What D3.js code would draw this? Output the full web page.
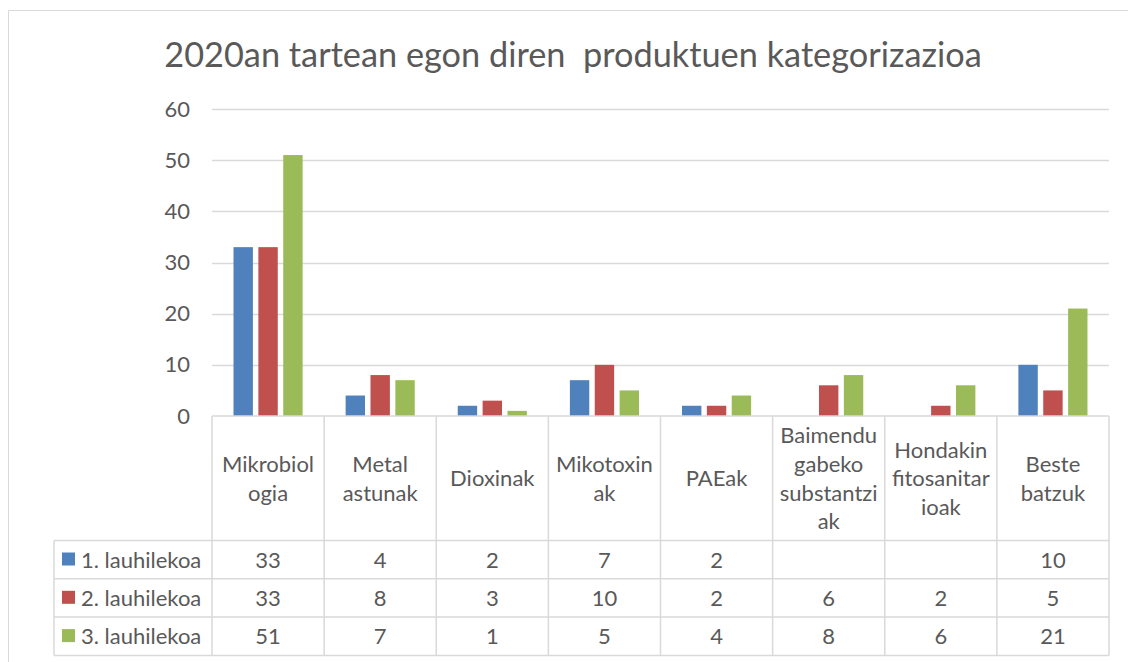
<!DOCTYPE html>
<html>
<head>
<meta charset="utf-8">
<script src="https://cdn.jsdelivr.net/npm/d3@7"></script>
<style>
  body { margin: 0; background: #fff; }
  svg { font-family: Lato, "Open Sans", sans-serif; fill: #595959; }
  .title { white-space: pre; }
</style>
</head>
<body>
<svg id="chart" width="1128" height="662"></svg>
<script>
const title = '2020an tartean egon diren  produktuen kategorizazioa';

// category names as wrapped in the table header
const categories = [
  ['Mikrobiol', 'ogia'],
  ['Metal', 'astunak'],
  ['Dioxinak'],
  ['Mikotoxin', 'ak'],
  ['PAEak'],
  ['Baimendu', 'gabeko', 'substantzi', 'ak'],
  ['Hondakin', 'fitosanitar', 'ioak'],
  ['Beste', 'batzuk']
];

const seriesNames = ['1. lauhilekoa', '2. lauhilekoa', '3. lauhilekoa'];
const seriesColors = ['#4f81bd', '#c0504d', '#9bbb59'];

const q1 = [33, 4, 2, 7, 2, null, null, 10];
const q2 = [33, 8, 3, 10, 2, 6, 2, 5];
const q3 = [51, 7, 1, 5, 4, 8, 6, 21];

const yTicks = [0, 10, 20, 30, 40, 50, 60];

const seriesValues = [q1, q2, q3];

const svg = d3.select('#chart');
const grid = '#d9d9d9';
const fontSize = 22;

// plot area / table geometry
const plotLeft = 212, plotRight = 1109;
const plotTop = 109, plotBase = 416;
const headBottom = 540.5;
const rowH = 38.3;
const legendLeft = 54;

// outer chart frame
svg.append('path')
  .attr('d', 'M8.5,700V10.5H1140')
  .attr('fill', 'none')
  .attr('stroke', grid);

svg.append('text')
  .attr('class', 'title')
  .attr('x', 573)
  .attr('y', 67)
  .attr('text-anchor', 'middle')
  .attr('font-size', 34.3)
  .text(title);

const x = d3.scaleBand()
  .domain(d3.range(categories.length))
  .range([plotLeft, plotRight]);

const x1 = d3.scaleBand()
  .domain(d3.range(seriesNames.length))
  .range([21.5, x.bandwidth() - 21.5])
  .paddingInner(0.22);

const y = d3.scaleLinear()
  .domain([0, 60])
  .range([plotBase, plotTop]);

// gridlines
svg.append('g')
  .selectAll('line')
  .data(yTicks.filter(d => d > 0))
  .join('line')
  .attr('x1', plotLeft)
  .attr('x2', plotRight)
  .attr('y1', d => Math.round(y(d)) + 0.5)
  .attr('y2', d => Math.round(y(d)) + 0.5)
  .attr('stroke', grid)
  .attr('stroke-width', 1.5);

// y axis labels (no line)
const yAxis = svg.append('g')
  .attr('transform', `translate(${plotLeft - 22},0)`)
  .call(d3.axisLeft(y).tickValues(yTicks).tickSize(0).tickPadding(0));
yAxis.select('.domain').remove();
yAxis.selectAll('text')
  .attr('font-family', 'Lato, sans-serif')
  .attr('font-size', fontSize)
  .attr('fill', '#595959');

// bars
const groups = svg.append('g')
  .selectAll('g')
  .data(seriesValues)
  .join('g')
  .attr('fill', (d, i) => seriesColors[i]);

groups.selectAll('rect')
  .data((vals, si) => vals.map((v, ci) => ({ v, ci, si })).filter(d => d.v != null))
  .join('rect')
  .attr('x', d => x(d.ci) + x1(d.si))
  .attr('width', x1.bandwidth())
  .attr('y', d => y(d.v))
  .attr('height', d => y(0) - y(d.v));

// data table
const table = svg.append('g')
  .attr('stroke', grid)
  .attr('stroke-width', 1.5)
  .attr('fill', 'none');

const rowLines = d3.range(seriesNames.length + 1).map(i => headBottom + i * rowH);
const tableBottom = rowLines[rowLines.length - 1];

table.append('line')
  .attr('x1', plotLeft).attr('x2', plotRight)
  .attr('y1', plotBase).attr('y2', plotBase);

table.selectAll('.hline')
  .data(rowLines)
  .join('line')
  .attr('class', 'hline')
  .attr('x1', legendLeft).attr('x2', plotRight)
  .attr('y1', d => d).attr('y2', d => d);

table.selectAll('.vline')
  .data(d3.range(categories.length + 1))
  .join('line')
  .attr('class', 'vline')
  .attr('x1', i => i < categories.length ? x(i) : plotRight)
  .attr('x2', i => i < categories.length ? x(i) : plotRight)
  .attr('y1', plotBase)
  .attr('y2', tableBottom);

table.append('line')
  .attr('x1', legendLeft).attr('x2', legendLeft)
  .attr('y1', headBottom).attr('y2', tableBottom);

// category header labels
const lineH = 28.7;
const headMid = (plotBase + headBottom) / 2;
svg.append('g')
  .selectAll('text')
  .data(categories)
  .join('text')
  .attr('text-anchor', 'middle')
  .attr('font-size', fontSize)
  .each(function (lines, i) {
    const t = d3.select(this);
    const y0 = headMid - (lines.length - 1) * lineH / 2 + 8;
    lines.forEach((ln, k) => {
      t.append('tspan')
        .attr('x', x(i) + x.bandwidth() / 2)
        .attr('y', y0 + k * lineH)
        .text(ln);
    });
  });

// legend keys and row labels
const rows = svg.append('g')
  .selectAll('g')
  .data(seriesNames)
  .join('g')
  .attr('transform', (d, i) => `translate(0,${rowLines[i]})`);

rows.append('rect')
  .attr('x', 62)
  .attr('y', 12)
  .attr('width', 13)
  .attr('height', 13)
  .attr('fill', (d, i) => seriesColors[i]);

rows.append('text')
  .attr('x', 81)
  .attr('y', rowH / 2 + 8)
  .attr('font-size', fontSize)
  .text(d => d);

// table values
rows.selectAll('.val')
  .data((d, i) => seriesValues[i].map((v, ci) => ({ v, ci })).filter(c => c.v != null))
  .join('text')
  .attr('class', 'val')
  .attr('x', c => x(c.ci) + x.bandwidth() / 2)
  .attr('y', rowH / 2 + 8)
  .attr('text-anchor', 'middle')
  .attr('font-size', fontSize)
  .text(c => c.v);
</script>
</body>
</html>
